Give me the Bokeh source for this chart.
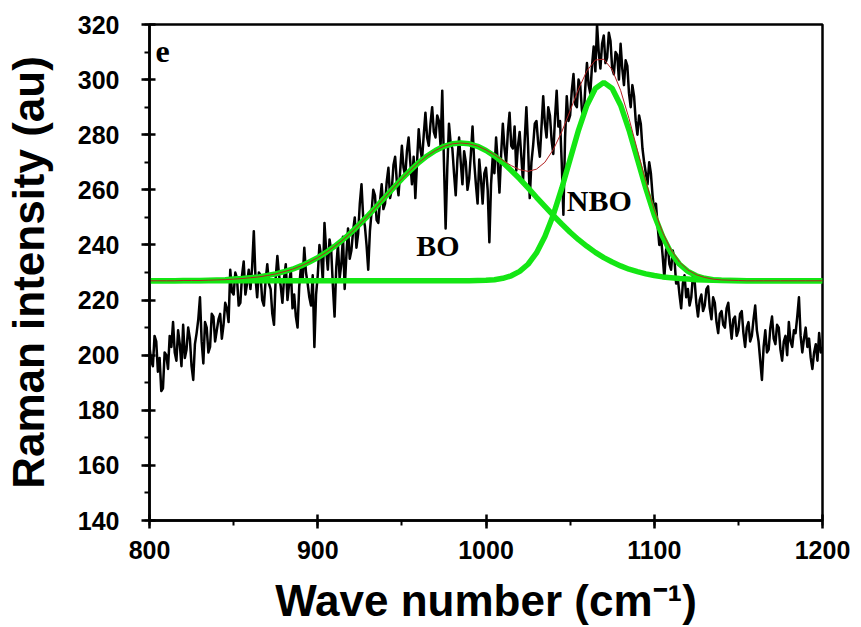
from bokeh.plotting import figure
from bokeh.models import Range1d, SingleIntervalTicker, Label
from bokeh.embed import file_html
from bokeh.resources import INLINE

spec_x = list(range(800, 1201, 1))
spec_y = [
    203, 198, 196, 207, 205, 194, 199, 187, 188, 201, 200, 195, 207, 203, 212, 201, 198, 209, 204, 196,
    211, 199, 202, 210, 206, 196, 191, 204, 208, 213, 221, 205, 197, 212, 210, 201, 203, 215, 214, 205,
    209, 213, 215, 206, 211, 219, 217, 212, 231, 223, 222, 230, 228, 218, 219, 229, 234, 222, 226, 231,
    224, 232, 245, 228, 221, 230, 229, 220, 218, 227, 233, 226, 224, 215, 211, 228, 236, 229, 225, 219,
    228, 233, 220, 226, 231, 217, 222, 214, 210, 225, 232, 227, 239, 230, 226, 221, 218, 229, 203, 222,
    229, 240, 236, 227, 248, 238, 231, 242, 238, 225, 214, 232, 240, 228, 233, 243, 224, 236, 246, 235,
    238, 245, 250, 239, 244, 255, 262, 250, 247, 240, 231, 245, 252, 260, 258, 249, 248, 256, 262, 253,
    255, 263, 268, 257, 260, 269, 272, 263, 258, 267, 276, 268, 265, 274, 279, 270, 262, 272, 257, 270,
    282, 275, 271, 280, 288, 279, 276, 284, 290, 281, 279, 287, 285, 276, 296, 270, 246, 268, 284, 277,
    275, 266, 258, 271, 279, 270, 262, 274, 270, 260, 264, 273, 283, 270, 262, 255, 271, 264, 255, 266,
    268, 260, 241, 262, 272, 266, 279, 270, 259, 273, 284, 275, 270, 281, 288, 276, 275, 283, 267, 276,
    281, 272, 263, 278, 290, 276, 257, 270, 276, 284, 285, 277, 272, 283, 294, 284, 279, 290, 287, 278,
    273, 286, 296, 283, 285, 270, 251, 279, 294, 285, 287, 296, 302, 291, 290, 300, 298, 289, 286, 297,
    306, 298, 295, 305, 312, 303, 320, 310, 304, 313, 316, 306, 308, 317, 314, 304, 302, 310, 309, 300,
    313, 304, 298, 307, 305, 295, 290, 298, 294, 285, 280, 287, 284, 275, 270, 266, 262, 270, 266, 258,
    252, 255, 247, 240, 243, 236, 228, 238, 240, 233, 231, 238, 235, 226, 228, 222, 217, 226, 229, 221,
    224, 218, 221, 229, 227, 219, 214, 220, 222, 216, 218, 224, 225, 217, 213, 221, 219, 212, 208, 215,
    216, 211, 210, 217, 219, 212, 206, 213, 214, 207, 209, 215, 216, 208, 203, 210, 212, 205, 207, 213,
    218, 209, 205, 198, 191, 203, 209, 201, 202, 210, 214, 206, 204, 211, 210, 202, 198, 205, 207, 200,
    212, 205, 203, 209, 208, 214, 221, 207, 201, 206, 210, 203, 206, 199, 195, 201, 204, 198, 208, 201,
    203,
]

# ---- fitted components (every 5 cm-1 from 800 to 1200) ----
fit_x = list(range(800, 1201, 5))
bo_fit = [
    227.0, 227.0, 227.0, 227.0, 227.1, 227.1, 227.1, 227.2, 227.3, 227.4,
    227.6, 227.8, 228.1, 228.4, 228.9, 229.5, 230.3, 231.2, 232.4, 233.8,
    235.4, 237.3, 239.5, 241.9, 244.6, 247.6, 250.7, 254.0, 257.3, 260.7,
    264.0, 267.0, 269.9, 272.3, 274.3, 275.8, 276.7, 277.0, 276.7, 275.8,
    274.3, 272.3, 269.9, 267.0, 264.0, 260.7, 257.3, 254.0, 250.7, 247.6,
    244.6, 241.9, 239.5, 237.3, 235.4, 233.8, 232.4, 231.2, 230.3, 229.5,
    228.9, 228.4, 228.1, 227.8, 227.6, 227.4, 227.3, 227.2, 227.1, 227.1,
    227.1, 227.0, 227.0, 227.0, 227.0, 227.0, 227.0, 227.0, 227.0, 227.0, 227.0,
]
nbo_fit = [
    227.0, 227.0, 227.0, 227.0, 227.0, 227.0, 227.0, 227.0, 227.0, 227.0,
    227.0, 227.0, 227.0, 227.0, 227.0, 227.0, 227.0, 227.0, 227.0, 227.0,
    227.0, 227.0, 227.0, 227.0, 227.0, 227.0, 227.0, 227.0, 227.0, 227.0,
    227.0, 227.0, 227.0, 227.0, 227.0, 227.0, 227.0, 227.0, 227.0, 227.1,
    227.2, 227.4, 227.9, 228.8, 230.4, 233.0, 237.1, 243.1, 250.9, 260.5,
    271.1, 281.7, 290.7, 296.8, 299.0, 296.8, 290.7, 281.7, 271.1, 260.5,
    250.9, 243.1, 237.1, 233.0, 230.4, 228.8, 227.9, 227.4, 227.2, 227.1,
    227.0, 227.0, 227.0, 227.0, 227.0, 227.0, 227.0, 227.0, 227.0, 227.0, 227.0,
]
envelope_fit = [
    227.0, 227.0, 227.0, 227.0, 227.1, 227.1, 227.1, 227.2, 227.3, 227.4,
    227.6, 227.8, 228.1, 228.4, 228.9, 229.5, 230.3, 231.2, 232.4, 233.8,
    235.4, 237.3, 239.5, 241.9, 244.6, 247.6, 250.7, 254.0, 257.3, 260.7,
    264.0, 267.0, 269.9, 272.3, 274.3, 275.8, 276.7, 277.0, 276.7, 275.9,
    274.5, 272.7, 270.7, 268.8, 267.3, 266.7, 267.5, 270.0, 274.6, 281.0,
    288.7, 296.6, 303.2, 307.1, 307.4, 303.6, 296.1, 285.9, 274.4, 263.0,
    252.8, 244.5, 238.2, 233.8, 230.9, 229.2, 228.2, 227.6, 227.3, 227.2,
    227.1, 227.0, 227.0, 227.0, 227.0, 227.0, 227.0, 227.0, 227.0, 227.0, 227.0,
]

x_title = "Wave number (cm\u207b\u00b9)"
y_title = "Raman intensity (au)"
x_limits = (800, 1200)
y_limits = (140, 320)

p = figure(
    width=855, height=627,
    x_range=Range1d(*x_limits), y_range=Range1d(*y_limits),
    output_backend="svg", toolbar_location=None,
    min_border_left=146, min_border_right=33,
    min_border_top=24, min_border_bottom=107,
    background_fill_color="white", border_fill_color="white",
)
p.xgrid.visible = False
p.ygrid.visible = False
p.outline_line_color = "black"
p.outline_line_width = 2.5
p.outline_line_alpha = 1.0

green = "#14E614"
p.line(spec_x, spec_y, line_color="black", line_width=2.5, line_join="round")
p.line(fit_x, bo_fit, line_color=green, line_width=5.5)
p.line(fit_x, nbo_fit, line_color=green, line_width=5.5)
p.line(fit_x, envelope_fit, line_color="#B22222", line_width=1)

p.xaxis.ticker = SingleIntervalTicker(interval=100, num_minor_ticks=2)
p.yaxis.ticker = SingleIntervalTicker(interval=20, num_minor_ticks=2)

for ax in (p.xaxis[0], p.yaxis[0]):
    ax.axis_line_width = 2.5
    ax.axis_line_color = "black"
    ax.major_tick_line_width = 2.5
    ax.minor_tick_line_width = 2
    ax.major_tick_line_color = "black"
    ax.minor_tick_line_color = "black"
    ax.major_tick_in = 6
    ax.major_tick_out = 8
    ax.minor_tick_in = 0
    ax.minor_tick_out = 5
    ax.major_label_text_font = "Liberation Sans"
    ax.major_label_text_font_style = "bold"
    ax.major_label_text_font_size = "25px"
    ax.major_label_text_color = "black"
    ax.major_label_text_line_height = 1.0
    ax.axis_label_text_font = "Liberation Sans"
    ax.axis_label_text_font_style = "bold"
    ax.axis_label_text_font_size = "44px"
    ax.axis_label_text_color = "black"
    ax.axis_label_text_line_height = 1.0

p.xaxis.axis_label = x_title
p.yaxis.axis_label = y_title
p.xaxis.major_label_standoff = 12
p.yaxis.major_label_standoff = 22
p.xaxis.axis_label_standoff = 14
p.yaxis.axis_label_standoff = 22

for txt, x, y, size in (("e", 803.5, 310.2, "32px"),
                        ("BO", 958.5, 239.8, "30px"),
                        ("NBO", 1048.0, 256.0, "30px")):
    p.add_layout(Label(x=x, y=y, text=txt, text_font="Liberation Serif",
                       text_font_style="bold", text_font_size=size,
                       text_color="black", text_baseline="alphabetic",
                       text_align="left"))

open("out.html", "w").write(file_html(p, INLINE))
